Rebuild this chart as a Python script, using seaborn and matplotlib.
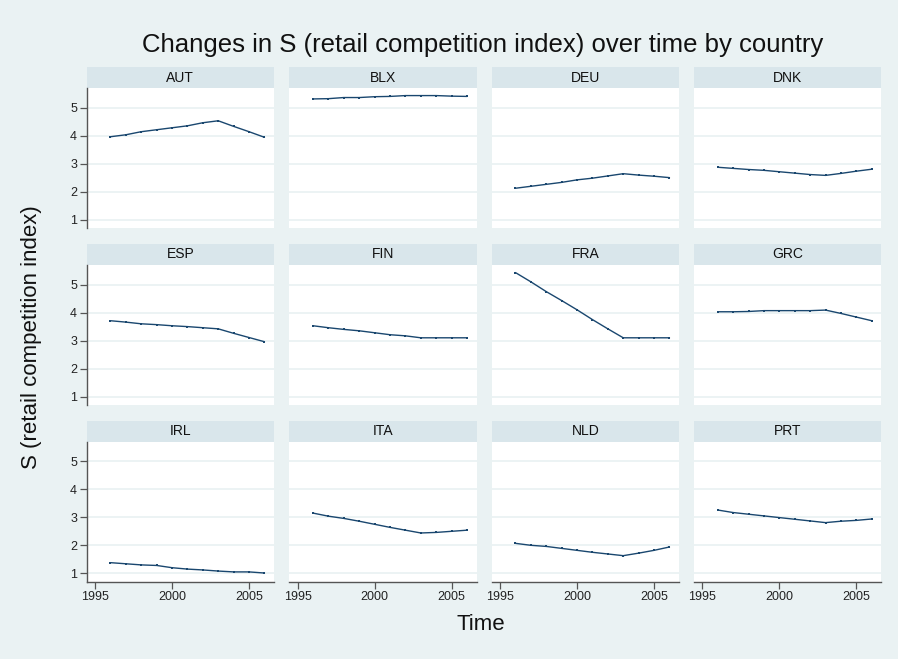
import numpy as np
import pandas as pd
import seaborn as sns
import matplotlib
matplotlib.use("Agg")
import matplotlib.pyplot as plt
from matplotlib.patches import Rectangle

# Retail competition index S by country, 1996-2006
years = list(range(1996, 2007))
countries = ["AUT", "BLX", "DEU", "DNK", "ESP", "FIN", "FRA", "GRC", "IRL", "ITA", "NLD", "PRT"]

aut = [3.97, 4.04, 4.15, 4.22, 4.29, 4.36, 4.47, 4.54, 4.34, 4.15, 3.95]
blx = [5.32, 5.33, 5.37, 5.37, 5.40, 5.41, 5.44, 5.44, 5.44, 5.42, 5.41]
deu = [2.13, 2.20, 2.27, 2.34, 2.43, 2.49, 2.57, 2.65, 2.60, 2.56, 2.51]
dnk = [2.88, 2.84, 2.80, 2.77, 2.72, 2.67, 2.62, 2.59, 2.66, 2.74, 2.81]
esp = [3.71, 3.66, 3.60, 3.57, 3.53, 3.50, 3.46, 3.42, 3.26, 3.11, 2.96]
fin = [3.53, 3.46, 3.40, 3.35, 3.28, 3.21, 3.17, 3.10, 3.10, 3.10, 3.10]
fra = [5.43, 5.10, 4.75, 4.43, 4.10, 3.75, 3.42, 3.10, 3.10, 3.10, 3.10]
grc = [4.03, 4.03, 4.04, 4.07, 4.07, 4.07, 4.07, 4.09, 3.97, 3.84, 3.71]
irl = [1.38, 1.34, 1.30, 1.28, 1.20, 1.15, 1.12, 1.08, 1.05, 1.05, 1.01]
ita = [3.15, 3.04, 2.96, 2.86, 2.75, 2.64, 2.54, 2.44, 2.46, 2.50, 2.54]
nld = [2.07, 2.00, 1.96, 1.89, 1.82, 1.75, 1.69, 1.63, 1.72, 1.82, 1.94]
prt = [3.26, 3.17, 3.11, 3.05, 2.99, 2.93, 2.87, 2.81, 2.86, 2.89, 2.94]

series = [aut, blx, deu, dnk, esp, fin, fra, grc, irl, ita, nld, prt]

y_ticks = [1, 2, 3, 4, 5]
x_ticks = [1995, 2000, 2005]

df = pd.DataFrame({
    "country": np.repeat(countries, len(years)),
    "year": years * len(countries),
    "S": np.concatenate(series),
})

BG = "#EAF2F3"
STRIP = "#D9E6EB"
LINE = "#1A476F"
AXC = "#555555"

sns.set_theme(style="white")
plt.rcParams["font.family"] = ["Liberation Sans", "DejaVu Sans"]

g = sns.relplot(
    data=df, x="year", y="S", col="country", col_wrap=4, kind="line",
    color=LINE, linewidth=1.0, marker="s", markersize=1.6, markeredgewidth=0,
    facet_kws=dict(sharex=True, sharey=True),
)
fig = g.figure
fig.set_size_inches(8.98, 6.59)
fig.set_dpi(100)
fig.patch.set_facecolor(BG)

W, H = 898.0, 659.0
col_left = [86.7, 289.3, 491.7, 694.0]
pw = 187.3
row_top = [88.3, 265.0, 441.7]
ph = 140.0
strip_h = 21.0

for i, ax in enumerate(g.axes.flat):
    r, c = divmod(i, 4)
    ax.set_position([col_left[c] / W, 1 - (row_top[r] + ph) / H, pw / W, ph / H])
    ax.set_facecolor("white")
    ax.set_xlim(1994.46, 2006.62)
    ax.set_ylim(0.7, 5.7)
    ax.set_yticks(y_ticks)
    ax.set_xticks(x_ticks)
    ax.set_title("")
    ax.set_xlabel("")
    ax.set_ylabel("")
    for yv in y_ticks:
        ax.axhline(yv, color=BG, linewidth=1.3, zorder=0)
    for s in ax.spines.values():
        s.set_visible(False)
    if c == 0:
        ax.spines["left"].set_visible(True)
        ax.spines["left"].set_color(AXC)
        ax.spines["left"].set_linewidth(1.0)
        ax.tick_params(axis="y", which="both", left=True, length=5, width=0.9,
                       color=AXC, labelsize=9, labelcolor="#222222", pad=2)
    else:
        ax.tick_params(axis="y", left=False, labelleft=False)
    if r == 2:
        ax.spines["bottom"].set_visible(True)
        ax.spines["bottom"].set_color(AXC)
        ax.spines["bottom"].set_linewidth(1.0)
        ax.tick_params(axis="x", which="both", bottom=True, length=5, width=0.9,
                       color=AXC, labelsize=9, labelcolor="#222222", pad=2,
                       labelbottom=True)
    else:
        ax.tick_params(axis="x", bottom=False, labelbottom=False)
    # strip header above each panel
    sh = strip_h / ph
    ax.add_patch(Rectangle((0, 1), 1, sh, transform=ax.transAxes,
                           facecolor=STRIP, edgecolor="none", clip_on=False))
    ax.text(0.5, 1 + sh / 2, countries[i], transform=ax.transAxes,
            ha="center", va="center", fontsize=10, color="#111111")

fig.text(483 / W, 1 - 45 / H, "Changes in S (retail competition index) over time by country",
         ha="center", va="center", fontsize=18.5, color="#111111")
fig.text(32 / W, 1 - 337 / H, "S (retail competition index)", rotation=90,
         ha="center", va="center", fontsize=16, color="#111111")
fig.text(481 / W, 1 - 625 / H, "Time", ha="center", va="center",
         fontsize=16, color="#111111")

fig.savefig("out.png", dpi=100, facecolor=BG)
